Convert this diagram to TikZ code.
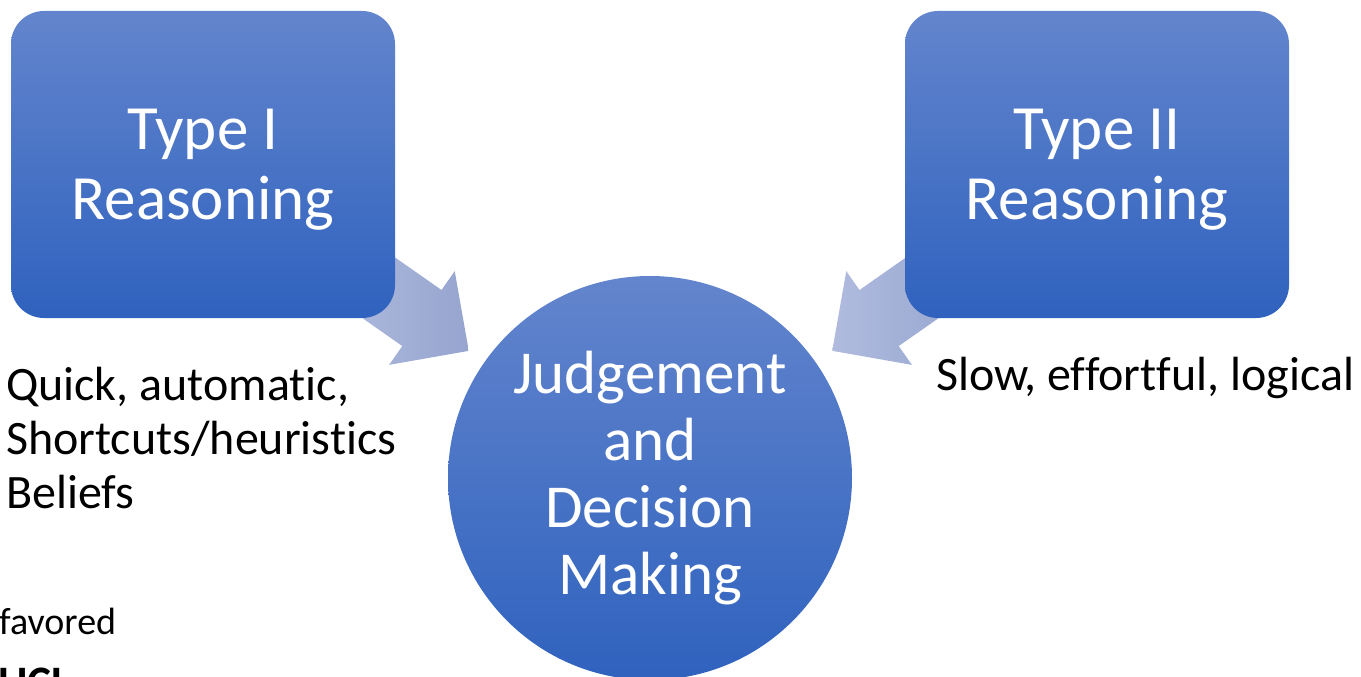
\documentclass[tikz,border=0pt]{standalone}
\usepackage{fontspec}
\setmainfont{Carlito}[Ligatures=NoCommon]
\usetikzlibrary{shapes.arrows}

\definecolor{boxtop}{RGB}{99,133,205}
\definecolor{boxbot}{RGB}{47,98,190}
\definecolor{arrlight}{RGB}{176,187,222}
\definecolor{arrdark}{RGB}{150,165,207}

\tikzset{
  typebox/.style={rectangle, rounded corners=33pt, minimum width=384pt, minimum height=307pt,
    top color=boxtop, bottom color=boxbot, text=white, align=center,
    font=\fontsize{63}{70}\selectfont},
  bigarrow/.style={single arrow, single arrow head extend=23pt, minimum height=150pt,
    inner xsep=0pt, inner ysep=34pt, left color=arrlight, right color=arrdark, anchor=tip},
  note/.style={anchor=base west, inner sep=0pt, align=left, font=\fontsize{48}{54}\selectfont}
}

\begin{document}
\begin{tikzpicture}[x=1pt, y=-1pt]
  \useasboundingbox (0,0) rectangle (1361,677);

  % arrows first, the boxes sit on top of their tails
  \node[bigarrow, rotate=-35] (arrI) at (469,351) {};
  \node[bigarrow, rotate=215] (arrII) at (832,351) {};

  \node[typebox, text depth=0pt] (typeI) at (203,164.5) {Type I\\Reasoning};
  \node[typebox, text depth=0pt] (typeII) at (1097,164.5) {Type II\\Reasoning};

  \node[circle, minimum size=404pt, inner sep=0pt, top color=boxtop, bottom color=boxbot,
    text=white, align=center, font=\fontsize{61}{67}\selectfont] (jdm) at (650,478)
    {Judgement\\and\\Decision\\Making};

  % descriptions under the boxes (base = last line)
  \node[note] (fast) at (6,508) {Quick, automatic,\\Shortcuts/heuristics\\Beliefs};
  \node[note] (slow) at (936,390) {Slow, effortful, logical};

  \node[anchor=base west, inner sep=0pt, font=\fontsize{38}{44}\selectfont] (fav) at (-1,634) {favored};
  \node[anchor=base west, inner sep=0pt, font=\bfseries\fontsize{45}{50}\selectfont] (ucl) at (-2,697) {UCL};
\end{tikzpicture}
\end{document}
